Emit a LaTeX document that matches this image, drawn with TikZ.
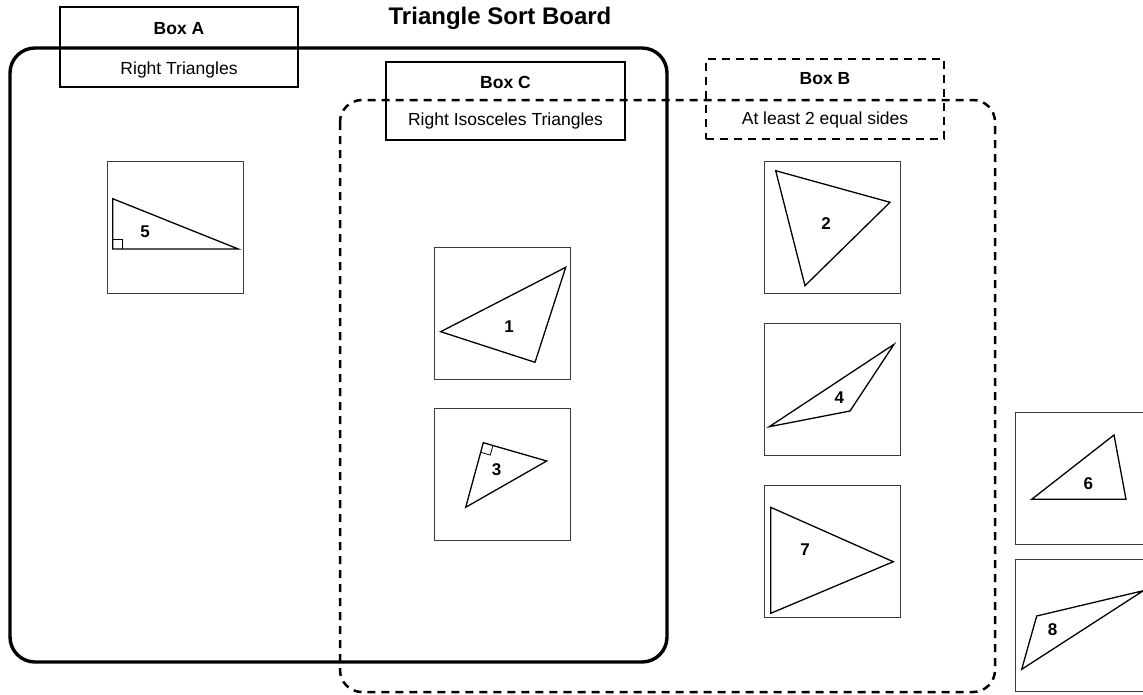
\documentclass[tikz,border=0pt]{standalone}
\usepackage{fontspec}
\setmainfont{Liberation Sans}
\definecolor{cardline}{RGB}{60,60,60}
\usetikzlibrary{
  positioning     % positions like below of node
}
\tikzset{
  x=1pt, y=-1pt,
  card/.style = {
    rectangle, draw=cardline, line width=0.9pt,
    minimum width=136pt, minimum height=132pt,
    inner sep=0pt, outer sep=0pt
  },
  tri/.style = {draw, line width=1.3pt, line join=miter},
  right-mark/.style = {draw, line width=0.8pt},
  num/.style = {font=\fontsize{17}{17}\selectfont\bfseries, inner sep=0pt},
  box-head/.style = {rectangle, draw, line width=2.4pt, inner sep=0pt},
  box-head-dashed/.style = {box-head, dash pattern=on 8pt off 6pt},
  box-name/.style = {font=\fontsize{17.5}{17.5}\selectfont\bfseries, inner sep=0pt},
  box-rule/.style = {font=\fontsize{17.5}{17.5}\selectfont, inner sep=0pt},
  region-a/.style = {draw, line width=3.4pt, rounded corners=25pt},
  region-b/.style = {draw, line width=2.5pt, rounded corners=22pt,
    dash pattern=on 8pt off 6pt},
  board-title/.style = {font=\fontsize{24}{24}\selectfont\bfseries, inner sep=0pt}
}

\begin{document}
\begin{tikzpicture}
\clip (0,0) rectangle (1143,694);

\node[board-title] (title) at (500,18) {Triangle Sort Board};

% sorting regions
\draw[region-a] (10,48) rectangle (667,662);
\draw[region-b] (340,100) rectangle (995,692);

% box headers
\node[box-head, minimum width=238pt, minimum height=80pt] (boxA) at (179,47) {};
\node[box-name] (boxAname) at (179,29) {Box A};
\node[box-rule] (boxArule) at (179,70) {Right Triangles};

\node[box-head, minimum width=239pt, minimum height=78pt] (boxC) at (505.5,101) {};
\node[box-name] (boxCname) at (505.5,82) {Box C};
\node[box-rule] (boxCrule) at (505.5,121) {Right Isosceles Triangles};

\node[box-head-dashed, minimum width=238pt, minimum height=80pt] (boxB) at (825,99) {};
\node[box-name] (boxBname) at (825,79) {Box B};
\node[box-rule] (boxBrule) at (825,120) {At least 2 equal sides};

% triangle cards
\node[card] (card5) at (175,227.5) {};
\node[card] (card1) at (502,313) {};
\node[card] (card3) at (502,474.5) {};
\node[card] (card2) at (832.5,227) {};
\node[card] (card4) at (832.5,389) {};
\node[card] (card7) at (832.5,551.5) {};
\node[card] (card6) at (1083,478) {};
\node[card] (card8) at (1083,625.5) {};

% triangles
\draw[tri] (112.7,249) -- (112.7,198.7) -- (238.3,249) -- cycle;
\draw[right-mark] (112.7,239) -- (122.7,239) -- (122.7,249);
\node[num] (n5) at (145,232) {5};

\draw[tri] (440.7,331.7) -- (565.7,267.3) -- (535,362.3) -- cycle;
\node[num] (n1) at (509,327) {1};

\draw[tri] (483.3,442.7) -- (546.7,461) -- (465.7,507.3) -- cycle;
\draw[right-mark] (492.9,445.5) -- (490.3,455.1) -- (480.7,452.3);
\node[num] (n3) at (496.7,470) {3};

\draw[tri] (775.7,170.7) -- (890,202.3) -- (805,285.7) -- cycle;
\node[num] (n2) at (826,224) {2};

\draw[tri] (894,344.3) -- (850,411) -- (769.3,426.7) -- cycle;
\node[num] (n4) at (839.3,397.7) {4};

\draw[tri] (770.7,507.3) -- (893.3,561.7) -- (770.7,613.3) -- cycle;
\node[num] (n7) at (805,550) {7};

\draw[tri] (1031.7,499.3) -- (1114,435) -- (1126,499.3) -- cycle;
\node[num] (n6) at (1088.3,483.3) {6};

\draw[tri] (1036.7,616) -- (1143.3,590.7) -- (1021.7,669.3) -- cycle;
\node[num] (n8) at (1052.7,630) {8};
\end{tikzpicture}
\end{document}
